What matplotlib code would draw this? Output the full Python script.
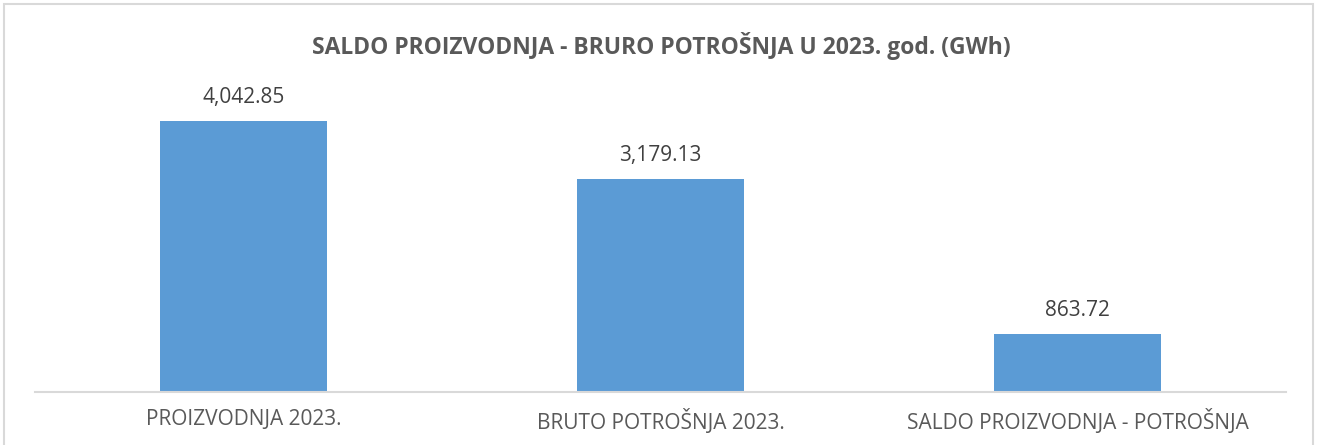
import matplotlib.pyplot as plt
from matplotlib.patches import Rectangle

# data
categories = ["PROIZVODNJA 2023.", "BRUTO POTROŠNJA 2023.", "SALDO PROIZVODNJA - POTROŠNJA"]
values = [4042.85, 3179.13, 863.72]
labels = ["4,042.85", "3,179.13", "863.72"]
title = "SALDO PROIZVODNJA - BRURO POTROŠNJA U 2023. god. (GWh)"

plt.rcParams['font.family'] = ['Open Sans', 'DejaVu Sans']

W, H = 1317, 445
fig = plt.figure(figsize=(W / 100, H / 100), dpi=100)

# chart frame (light grey border, bottom cut off)
fig.patches.append(Rectangle((4 / W, -0.05), (1313 - 4) / W, 1.05 - 4 / H,
                             transform=fig.transFigure, fill=False,
                             edgecolor="#d9d9d9", linewidth=1.5))

ax = fig.add_axes([35 / W, 53 / H, (1286 - 35) / W, 302 / H])
ax.bar(range(len(values)), values, width=0.4, color="#5b9bd5")
ax.set_xlim(-0.5, len(values) - 0.5)
ax.set_ylim(0, 4500)

for i, (v, t) in enumerate(zip(values, labels)):
    ax.annotate(t, (i, v), xytext=(0, 13), textcoords="offset points",
                ha="center", va="baseline", fontsize=15, color="#404040")

ax.set_xticks(range(len(values)))
ax.set_xticklabels(categories, fontsize=15, color="#595959")
ax.tick_params(axis="x", length=0, pad=12)
ax.set_yticks([])
for s in ["top", "left", "right"]:
    ax.spines[s].set_visible(False)
ax.spines["bottom"].set_color("#d9d9d9")
ax.spines["bottom"].set_linewidth(1.5)

fig.text(661 / W, 1 - 46 / H, title, ha="center", va="center",
         fontsize=16.5, fontweight="bold", color="#595959")

fig.savefig("out.png", dpi=100)
